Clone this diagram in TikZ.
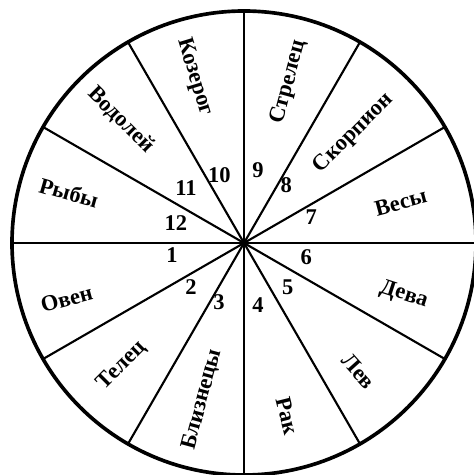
\documentclass[tikz,border=0pt]{standalone}
\usepackage{fontspec}
\setmainfont{Liberation Serif}
\usepackage{tikz}
\tikzset{
	rim/.style={line width=2.6pt},
	spoke/.style={line width=1.5pt},
	sign/.style={font=\fontsize{16}{18}\selectfont\bfseries, inner sep=1pt},
	num/.style={font=\fontsize{16}{18}\selectfont\bfseries, inner sep=1pt},
}

\begin{document}
\begin{tikzpicture}[x=0.025cm, y=0.025cm]
			\useasboundingbox (-244,-232) rectangle (230,243);
			\coordinate (c) at (0,0);
			\foreach \a in {0,30,...,330} {
				\coordinate (r\a) at (\a:232);
				\draw[spoke] (c) -- (r\a);
			}
			\draw[rim] (c) circle (232);
			
			\node[sign, rotate=15] (oven) at (197.5:186) {Овен};
			\node[sign, rotate=45] (telec) at (225:173) {Телец};
			\node[sign, rotate=75] (bliz) at (255:162) {Близнецы};
			\node[sign, rotate=-76] (rak) at (284:178) {Рак};
			\node[sign, rotate=-48] (lev) at (311.7:172) {Лев};
			\node[sign, rotate=-18] (deva) at (342:168) {Дева};
			\node[sign, rotate=15] (vesy) at (14.6:162) {Весы};
			\node[sign, rotate=45] (skorp) at (45:155) {Скорпион};
			\node[sign, rotate=75] (strel) at (74.4:167) {Стрелец};
			\node[sign, rotate=-73] (kozer) at (106.5:173) {Козерог};
			\node[sign, rotate=-45] (vodol) at (135:174) {Водолей};
			\node[sign, rotate=-16] (ryby) at (164:182) {Рыбы};
			
			\node[num] (n1) at (189.5:73) {1};
			\node[num] (n2) at (219.7:69) {2};
			\node[num] (n3) at (247:64) {3};
			\node[num] (n4) at (282.7:64) {4};
			\node[num] (n5) at (315:62) {5};
			\node[num] (n6) at (347:64) {6};
			\node[num] (n7) at (21:72) {7};
			\node[num] (n8) at (54:72) {8};
			\node[num] (n9) at (79:74) {9};
			\node[num] (n10) at (110:72) {10};
			\node[num] (n11) at (136.5:80) {11};
			\node[num] (n12) at (163.6:71) {12};
		\end{tikzpicture}
\end{document}
